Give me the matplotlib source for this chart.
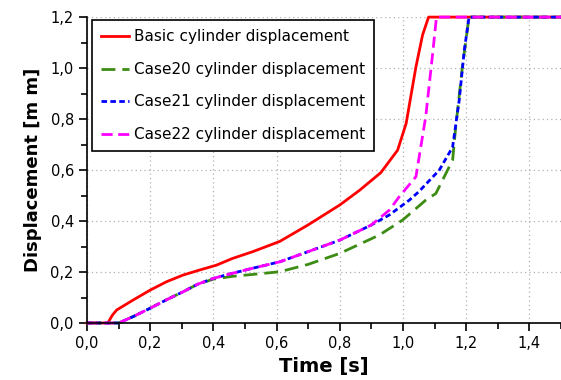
"""Cylinder displacement vs time for the basic case and cases 20-22."""
import matplotlib

matplotlib.use("Agg")
import matplotlib.pyplot as plt  # noqa: E402
from matplotlib.ticker import FuncFormatter, MultipleLocator  # noqa: E402

# values
basic_t = [0.0, 0.066, 0.08, 0.094, 0.146, 0.2, 0.252, 0.304, 0.357, 0.41,
           0.46, 0.525, 0.61, 0.7, 0.8, 0.862, 0.93, 0.983, 1.01, 1.041,
           1.062, 1.081, 1.5]
basic_y = [0.0, 0.0, 0.03, 0.051, 0.09, 0.129, 0.162, 0.188, 0.208, 0.227,
           0.253, 0.28, 0.32, 0.385, 0.463, 0.52, 0.59, 0.678, 0.783, 1.005,
           1.13, 1.2, 1.2]

case20_t = [0.0, 0.1, 0.146, 0.2, 0.25, 0.305, 0.35, 0.4, 0.46, 0.52, 0.61,
            0.7, 0.8, 0.925, 0.999, 1.072, 1.104, 1.125, 1.157, 1.167, 1.188,
            1.209, 1.5]
case20_y = [0.0, 0.0, 0.025, 0.058, 0.09, 0.123, 0.152, 0.172, 0.183, 0.19,
            0.201, 0.23, 0.273, 0.345, 0.404, 0.482, 0.508, 0.56, 0.639, 0.77,
            1.005, 1.2, 1.2]

case21_t = [0.0, 0.1, 0.146, 0.2, 0.25, 0.305, 0.35, 0.4, 0.46, 0.525, 0.61,
            0.7, 0.8, 0.899, 0.957, 1.02, 1.05, 1.115, 1.157, 1.178, 1.194,
            1.209, 1.5]
case21_y = [0.0, 0.0, 0.025, 0.058, 0.09, 0.123, 0.152, 0.175, 0.195, 0.215,
            0.24, 0.28, 0.325, 0.384, 0.424, 0.482, 0.515, 0.6, 0.69, 0.875,
            1.07, 1.2, 1.2]

case22_t = [0.0, 0.1, 0.146, 0.2, 0.25, 0.305, 0.35, 0.4, 0.46, 0.525, 0.61,
            0.7, 0.8, 0.899, 0.957, 0.988, 1.041, 1.072, 1.094, 1.106, 1.5]
case22_y = [0.0, 0.0, 0.025, 0.058, 0.09, 0.123, 0.152, 0.175, 0.195, 0.215,
            0.24, 0.28, 0.325, 0.384, 0.443, 0.495, 0.574, 0.81, 1.058, 1.2,
            1.2]

series = [
    ("Basic cylinder displacement", basic_t, basic_y, "#ff0000", "-"),
    ("Case20 cylinder displacement", case20_t, case20_y, "#3c8c14", (0, (5, 2.5))),
    ("Case21 cylinder displacement", case21_t, case21_y, "#0000ff", (0, (2, 1.2))),
    ("Case22 cylinder displacement", case22_t, case22_y, "#ff00ff", (0, (4, 2))),
]

plt.rcParams["font.family"] = ["DejaVu Sans"]

fig = plt.figure(figsize=(5.61, 3.80), dpi=100)
ax = fig.add_axes([0.155, 0.15, 0.845, 0.805])

for label, t, y, color, ls in series:
    ax.plot(t, y, color=color, linestyle=ls, linewidth=2, label=label,
            clip_on=False)

ax.set_xlim(0, 1.5)
ax.set_ylim(0, 1.2)
ax.xaxis.set_major_locator(MultipleLocator(0.2))
ax.xaxis.set_minor_locator(MultipleLocator(0.1))
ax.yaxis.set_major_locator(MultipleLocator(0.2))
ax.yaxis.set_minor_locator(MultipleLocator(0.1))
comma = FuncFormatter(lambda v, _: f"{v:.1f}".replace(".", ","))
ax.xaxis.set_major_formatter(comma)
ax.yaxis.set_major_formatter(comma)
ax.tick_params(which="both", direction="out", color="black", width=1.2,
               labelsize=10.5)
ax.tick_params(which="major", length=6)
ax.tick_params(which="minor", length=4)
ax.grid(True, which="major", linestyle=(0, (1, 2.5)), color="#b0b0b0",
        linewidth=0.9)

for side in ("top", "right"):
    ax.spines[side].set_visible(False)
for side in ("left", "bottom"):
    ax.spines[side].set_linewidth(1.2)

ax.set_xlabel("Time [s]", fontsize=14, fontweight="bold", labelpad=4)
ax.set_ylabel("Displacement [m m]", fontsize=13, fontweight="bold", labelpad=6)

leg = ax.legend(loc="upper left", bbox_to_anchor=(0.011, 0.99), fontsize=11,
                fancybox=False, edgecolor="black", framealpha=1,
                borderaxespad=0, handlelength=1.8, handletextpad=0.35,
                borderpad=0.6, labelspacing=1.15)
leg.get_frame().set_linewidth(1.2)

fig.savefig("out.png", dpi=100)
